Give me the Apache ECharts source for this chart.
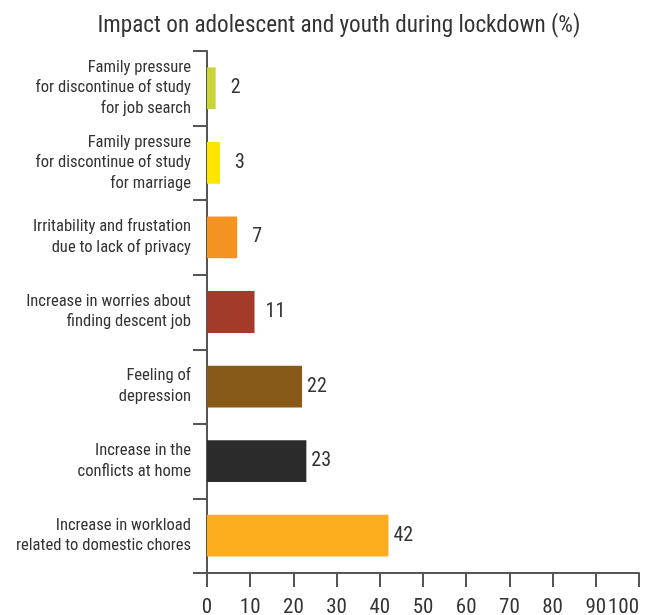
<!DOCTYPE html>
<html><head><meta charset="utf-8">
<script src="https://cdn.jsdelivr.net/npm/echarts@6/dist/echarts.min.js"></script>
<style>html,body{margin:0;padding:0;background:#fff}#c{width:651px;height:615px}</style>
</head><body><div id="c"></div>
<script>
const categories = [
  "Family pressure\nfor discontinue of study\nfor job search",
  "Family pressure\nfor discontinue of study\nfor marriage",
  "Irritability and frustation\ndue to lack of privacy",
  "Increase in worries about\nfinding descent job",
  "Feeling of\ndepression",
  "Increase in the\nconflicts at home",
  "Increase in workload\nrelated to domestic chores"
];
const values = [2, 3, 7, 11, 22, 23, 42];
const colors = ["#c9d439", "#ffe500", "#f39422", "#a33b2a", "#875b17", "#2b2b2b", "#fbad1c"];
const titleText = "Impact on adolescent and youth during lockdown (%)";
const FONT = "'Liberation Sans Narrow', 'Roboto Condensed', Roboto, sans-serif";
function gapFor(v) { return v < 10 ? 15 : (v < 20 ? 11 : 5); }
const chart = echarts.init(document.getElementById('c'));
chart.setOption({
  animation: false,
  title: {text: titleText, left: 334, top: 10, textAlign: 'center',
    textStyle: {fontFamily: FONT, fontSize: 23.2, fontWeight: 'normal', color: '#333'}},
  grid: {left: 207, right: 12, top: 51, bottom: 42, containLabel: false, outerBoundsMode: 'none'},
  xAxis: {type: 'value', min: 0, max: 100, interval: 10,
    axisLine: {show: true, lineStyle: {color: '#555', width: 2}},
    axisTick: {show: true, length: 14, lineStyle: {color: '#555', width: 2}},
    splitLine: {show: false},
    axisLabel: {fontFamily: FONT, fontSize: 21, color: '#333', margin: 24, alignMaxLabel: 'right'}},
  yAxis: {type: 'category', data: categories, inverse: true,
    axisLine: {show: true, lineStyle: {color: '#555', width: 2}},
    axisTick: {show: true, length: 14, lineStyle: {color: '#555', width: 2}},
    axisLabel: {fontFamily: FONT, fontSize: 16.6, lineHeight: 20.5, color: '#333', margin: 16, align: 'right'}},
  series: [{type: 'bar', barWidth: '56%',
    data: values.map((v, i) => ({value: v, itemStyle: {color: colors[i]},
      label: {distance: gapFor(v)}})),
    label: {show: true, position: 'right', fontFamily: FONT, fontSize: 20, color: '#333'}}]
});
</script></body></html>
